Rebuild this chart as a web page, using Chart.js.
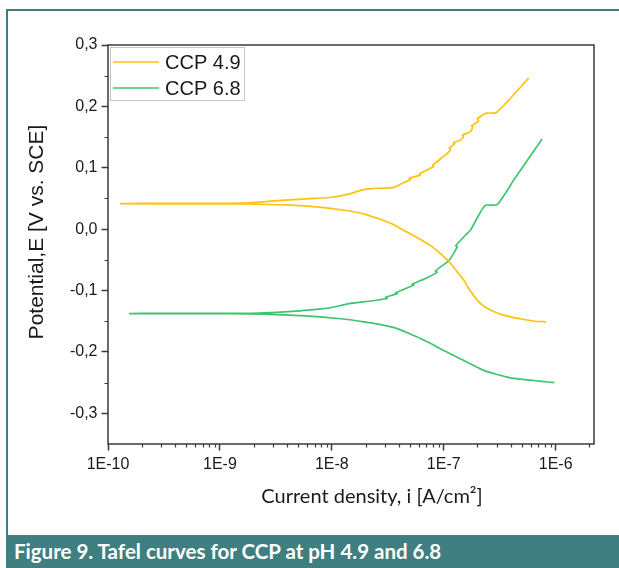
<!DOCTYPE html>
<html>
<head>
<meta charset="utf-8">
<script src="https://cdn.jsdelivr.net/npm/chart.js@4.4.1/dist/chart.umd.min.js"></script>
<style>
  body { margin: 0; background: #fff; width: 619px; height: 568px; overflow: hidden; position: relative; }
  #frame { position: absolute; left: 6px; top: 9px; width: 640px; height: 540px; border-left: 2px solid #3f7f80; border-top: 2px solid #3f7f80; }
  #caption { position: absolute; left: 6px; top: 535px; width: 613px; height: 33px; background: #3f7f80; color: #fff;
             font: bold 20.5px Lato, "Open Sans", sans-serif; line-height: 33px; padding-left: 8px; box-sizing: border-box; }
  #chart { position: absolute; left: 0; top: 0; }
</style>
</head>
<body>
<div id="frame"></div>
<canvas id="chart" width="619" height="535"></canvas>
<div id="caption">Figure 9. Tafel curves for CCP at pH 4.9 and 6.8</div>
<script>
// Tafel scans: cathodic branch (high current -> Ecorr) then anodic branch
var ccp49Current = [8.21e-7, 6.5e-7, 5.18e-7, 4.2e-7, 3.44e-7, 2.85e-7, 2.44e-7, 2.1e-7, 1.85e-7, 1.65e-7, 1.51e-7, 1.3e-7,
  1.15e-7, 9.35e-8, 7.8e-8, 6.63e-8, 5.3e-8, 4.40e-8, 3.5e-8, 2.91e-8, 1.93e-8, 1.4e-8, 9.73e-9, 6.5e-9, 4.28e-9,
  1.88e-9, 4.46e-10, 1.30e-10,
  2.0e-10, 6.73e-10, 1.88e-9, 3.02e-9, 6.87e-9, 9.94e-9, 1.47e-8, 1.88e-8, 2.22e-8, 3.58e-8, 4.10e-8,
  5.04e-8, 4.92e-8, 6.19e-8, 6.05e-8, 8.15e-8, 7.95e-8, 1.07e-7, 1.15e-7, 1.12e-7, 1.25e-7, 1.22e-7, 1.41e-7,
  1.50e-7, 1.47e-7, 1.73e-7, 1.81e-7, 1.77e-7, 2.05e-7, 2.0e-7, 2.40e-7, 2.96e-7, 5.74e-7];
var ccp49Potential = [-0.151, -0.150, -0.147, -0.144, -0.140, -0.135, -0.129, -0.120, -0.108, -0.095, -0.083, -0.068,
  -0.056, -0.040, -0.028, -0.020, -0.010, -0.002, 0.008, 0.014, 0.025, 0.030, 0.034, 0.037, 0.039,
  0.041, 0.041, 0.0415,
  0.042, 0.042, 0.043, 0.046, 0.050, 0.052, 0.058, 0.064, 0.066, 0.068, 0.073,
  0.081, 0.083, 0.088, 0.090, 0.102, 0.104, 0.123, 0.130, 0.132, 0.139, 0.141, 0.145,
  0.151, 0.153, 0.159, 0.166, 0.168, 0.176, 0.180, 0.189, 0.190, 0.246];

var ccp68Current = [9.73e-7, 7.5e-7, 5.94e-7, 4.6e-7, 3.68e-7, 2.9e-7, 2.28e-7, 1.85e-7, 1.51e-7, 1.2e-7, 9.35e-8,
  7.6e-8, 6.19e-8, 4.9e-8, 3.84e-8, 2.8e-8, 1.93e-8, 1.20e-8, 5.26e-9, 1.88e-9, 6.73e-10, 1.57e-10,
  2.5e-10, 1.88e-9, 5.26e-9, 7.93e-9, 9.73e-9, 1.47e-8, 2.22e-8, 3.13e-8, 3.02e-8, 3.84e-8, 3.70e-8,
  5.40e-8, 5.20e-8, 7.11e-8, 8.73e-8, 8.45e-8, 1.11e-7, 1.32e-7, 1.28e-7, 1.62e-7, 1.73e-7, 2.13e-7,
  2.36e-7, 3.00e-7, 4.22e-7, 7.57e-7];
var ccp68Potential = [-0.250, -0.248, -0.246, -0.244, -0.241, -0.236, -0.230, -0.222, -0.214, -0.205, -0.195,
  -0.186, -0.178, -0.170, -0.162, -0.156, -0.151, -0.146, -0.141, -0.138, -0.1375, -0.1375,
  -0.1372, -0.137, -0.133, -0.130, -0.128, -0.121, -0.117, -0.113, -0.111, -0.105, -0.104,
  -0.091, -0.090, -0.079, -0.070, -0.068, -0.051, -0.029, -0.027, -0.007, -0.002, 0.028,
  0.039, 0.040, 0.080, 0.147];

var decadeTicks = [1e-10, 1e-9, 1e-8, 1e-7, 1e-6];
var potentialTicks = [-0.3, -0.2, -0.1, 0, 0.1, 0.2, 0.3];
var seriesLabels = ['CCP 4.9', 'CCP 6.8'];
var seriesColors = ['#ffc20e', '#3fc46f'];

function toPoints(xs, ys) {
  return xs.map(function (x, i) { return { x: x, y: ys[i] }; });
}

var axisColor = '#3a3a3a';
var tickFont = { family: '"Liberation Sans", Arial, sans-serif', size: 16 };

// frame, minor ticks, axis titles and legend
var decorations = {
  id: 'decorations',
  afterDraw: function (chart) {
    var c = chart.ctx, a = chart.chartArea;
    var xs = chart.scales.x, ys = chart.scales.y;
    c.save();
    c.strokeStyle = axisColor;
    c.lineWidth = 1.5;
    c.strokeRect(a.left, a.top, a.right - a.left, a.bottom - a.top);

    c.lineWidth = 1.2;
    c.beginPath();
    for (var e = -10; e <= -6; e++) {
      for (var m = 2; m <= 9; m++) {
        var v = m * Math.pow(10, e);
        if (v > xs.max) break;
        var px = Math.round(xs.getPixelForValue(v)) + 0.5;
        c.moveTo(px, a.bottom); c.lineTo(px, a.bottom + 3.5);
      }
    }
    for (var k = -0.25; k < 0.3; k += 0.1) {
      var py = Math.round(ys.getPixelForValue(k)) + 0.5;
      c.moveTo(a.left, py); c.lineTo(a.left - 3.5, py);
    }
    c.stroke();

    c.fillStyle = '#1a1a1a';
    c.textAlign = 'center';
    c.textBaseline = 'middle';
    c.font = '20px Lato, "Open Sans", sans-serif';
    c.fillText('Current density, i [A/cm\u00b2]', 372, 497);
    c.save();
    c.translate(37, 232);
    c.rotate(-Math.PI / 2);
    c.font = '21px "Liberation Sans", Arial, sans-serif';
    c.fillText('Potential,E [V vs. SCE]', 0, 0);
    c.restore();

    c.strokeStyle = '#c4c4c4';
    c.lineWidth = 1;
    c.strokeRect(110.5, 47.5, 134, 53);
    c.textAlign = 'left';
    c.font = '20px "Liberation Sans", Arial, sans-serif';
    chart.data.datasets.forEach(function (ds, i) {
      var ly = 62 + i * 26;
      c.strokeStyle = ds.borderColor;
      c.lineWidth = 1.6;
      c.beginPath(); c.moveTo(113, ly); c.lineTo(159, ly); c.stroke();
      c.fillStyle = '#1a1a1a';
      c.fillText(ds.label, 165, ly + 1);
    });
    c.restore();
  }
};

new Chart(document.getElementById('chart'), {
  type: 'scatter',
  data: {
    datasets: [
      { label: seriesLabels[0], data: toPoints(ccp49Current, ccp49Potential), showLine: true,
        borderColor: seriesColors[0], borderWidth: 1.7, pointRadius: 0, tension: 0.2 },
      { label: seriesLabels[1], data: toPoints(ccp68Current, ccp68Potential), showLine: true,
        borderColor: seriesColors[1], borderWidth: 1.7, pointRadius: 0, tension: 0.2 }
    ]
  },
  options: {
    responsive: false,
    animation: false,
    devicePixelRatio: 1,
    layout: { padding: { left: 0, top: 45, right: 25, bottom: 0 } },
    plugins: { legend: { display: false }, tooltip: { enabled: false } },
    scales: {
      x: {
        type: 'logarithmic', min: 1e-10, max: 2.2e-6,
        afterBuildTicks: function (s) { s.ticks = decadeTicks.map(function (v) { return { value: v, major: true }; }); },
        afterFit: function (s) { s.height = 91; },
        border: { display: false },
        grid: { drawOnChartArea: false, drawTicks: true, tickLength: 6.5, tickColor: axisColor, tickWidth: 1.5 },
        ticks: { font: tickFont, color: '#1a1a1a', padding: 4, maxRotation: 0, autoSkip: false,
          callback: function (v) { return '1E' + Math.round(Math.log10(v)); } }
      },
      y: {
        min: -0.35, max: 0.3,
        afterBuildTicks: function (s) { s.ticks = potentialTicks.map(function (v) { return { value: v }; }); },
        afterFit: function (s) { s.width = 108; },
        border: { display: false },
        grid: { drawOnChartArea: false, drawTicks: true, tickLength: 6.5, tickColor: axisColor, tickWidth: 1.5 },
        ticks: { font: tickFont, color: '#1a1a1a', padding: 4,
          callback: function (v) { return v.toFixed(1).replace('.', ','); } }
      }
    }
  },
  plugins: [decorations]
});
</script>
</body>
</html>
